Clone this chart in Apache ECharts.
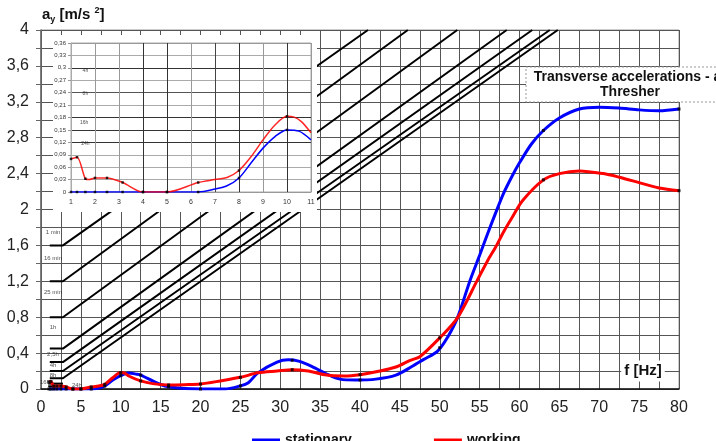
<!DOCTYPE html>
<html><head><meta charset="utf-8">
<script src="https://cdn.jsdelivr.net/npm/echarts@6/dist/echarts.min.js"></script>
<style>html,body{margin:0;padding:0;background:#fff}#c{width:716px;height:441px}</style>
</head><body><div id="c"></div>
<script>
const FONT = "'Liberation Sans', Arial, sans-serif";

// ---- main chart: curves [f Hz, a m/s2]
const stationaryLine = [[1,0],[2,0],[4,0],[6.3,0],[7,0.005],[8,0.034],[9,0.1],[10,0.15],[11,0.178],[12,0.165],[12.5,0.155],[14,0.09],[15,0.05],[16,0.025],[18,0.005],[20,0],[23,0],[25,0.035],[26,0.07],[27.2,0.18],[29.6,0.3],[31,0.325],[32.3,0.31],[34,0.25],[36,0.16],[37.5,0.11],[39.5,0.1],[42,0.11],[44.5,0.155],[46.5,0.25],[48,0.33],[49.7,0.42],[51,0.58],[52.2,0.79],[53.8,1.21],[55,1.49],[56,1.73],[57,1.96],[58,2.18],[59,2.36],[60,2.52],[61.5,2.73],[63,2.88],[65,3.02],[67.5,3.12],[70,3.14],[72.5,3.13],[75,3.11],[77.5,3.1],[80,3.12]];
const workingLine = [[1,0.08],[1.25,0.084],[1.6,0.032],[2,0.034],[2.5,0.034],[3.15,0.023],[4,0],[5,0],[6.3,0.023],[7,0.03],[8,0.052],[9,0.126],[10,0.183],[10.5,0.178],[11,0.145],[12.5,0.09],[14,0.06],[16,0.045],[18,0.048],[20,0.055],[22.5,0.09],[25,0.13],[27.2,0.18],[29.6,0.2],[31.5,0.215],[33.5,0.2],[35.8,0.155],[38,0.145],[40,0.16],[42.5,0.2],[44.5,0.245],[46.3,0.32],[47.5,0.36],[50,0.57],[52.2,0.79],[54.7,1.21],[56,1.43],[57,1.58],[58,1.75],[59,1.9],[60.4,2.1],[63,2.33],[65,2.4],[67.5,2.43],[70.5,2.4],[72.5,2.36],[75,2.3],[77.5,2.24],[80,2.21]];

// measured 1/3-octave band points (markers)
const bandFreq       = [1,1.25,1.6,2,2.5,3.15,4,5,6.3,8,10,12.5,16,20,25,31.5,40,50,63,80];
const stationaryBand = [0,0,0,0,0,0,0,0,0,0.034,0.15,0.155,0.025,0,0.035,0.32,0.1,0.46,2.88,3.12];
const workingBand    = [0.08,0.084,0.032,0.034,0.034,0.023,0,0,0.023,0.052,0.183,0.09,0.045,0.055,0.13,0.215,0.16,0.57,2.33,2.21];

// exposure limit lines: level at the bend, and frequency where they reach 4 m/s2
const limitStart   = [1.6, 1.2, 0.8, 0.45, 0.3, 0.2, 0.12];
const limitEndFreq = [41.0, 46.0, 52.2, 58.4, 61.6, 63.8, 64.8];
const limitStubFrom = 1.1, limitBend = 2.75;
const extraStubs = [0.06, 0.03];
const limitLabels = ['1 min','16 min','25 min','1h','2,5h','4h','8h','16h','24h'];
const limitLabelPos = [[1.5,1.75],[1.5,1.46],[1.5,1.08],[1.5,0.69],[1.5,0.39],[1.5,0.26],[1.5,0.15],[0.5,0.07],[4.5,0.045]];

// ---- inset (1-11 Hz)
const insetStationary = [[1,0],[2,0],[3,0],[4,0],[5,0],[6.3,0],[7,0.007],[7.5,0.015],[8,0.034],[8.5,0.07],[9,0.106],[9.5,0.134],[10,0.15],[10.5,0.147],[11,0.126]];
const insetWorking = [[1,0.08],[1.25,0.084],[1.6,0.032],[1.75,0.03],[2,0.034],[2.5,0.034],[3.15,0.023],[4,0],[5,0],[6.3,0.023],[7,0.03],[7.5,0.035],[8,0.052],[8.5,0.085],[9,0.126],[9.5,0.162],[10,0.183],[10.3,0.181],[10.6,0.17],[11,0.143]];
const insetLabels = ['4h','8h','16h','24h'];
const insetLabelPos = [[1.6,0.294],[1.6,0.237],[1.55,0.168],[1.6,0.117]];

const BLUE = '#0000ff', RED = '#ff0000';

function commaLabel(v, step){
  if (Math.abs(v/step - Math.round(v/step)) > 1e-6) return '';
  return String(Math.round(v*100)/100).replace('.', ',');
}

const series = [];
// limit lines
limitStart.forEach((y0, i) => {
  series.push({type:'line', xAxisIndex:0, yAxisIndex:0, z:1, silent:true, symbol:'none',
    lineStyle:{color:'#000', width:2}, animation:false,
    data:[[limitStubFrom, y0],[limitBend, y0],[limitEndFreq[i], 4]]});
});
extraStubs.forEach(y0 => {
  series.push({type:'line', z:1, silent:true, symbol:'none', lineStyle:{color:'#000', width:2}, animation:false,
    data:[[0.9, y0],[limitBend, y0]]});
});
series.push({type:'scatter', z:1, symbolSize:0, silent:true, animation:false,
  data: limitLabels.map((t,i)=>[limitLabelPos[i][0], limitLabelPos[i][1], t]),
  label:{show:true, position:'inside', formatter:p=>p.value[2], fontSize:6, color:'#222', fontFamily:FONT}});

// main curves
series.push({name:'stationary', type:'line', z:3, smooth:0.3, symbol:'none', animation:false,
  lineStyle:{color:BLUE, width:3}, itemStyle:{color:BLUE}, data:stationaryLine});
series.push({name:'working', type:'line', z:4, smooth:0.3, symbol:'none', animation:false,
  lineStyle:{color:RED, width:3}, itemStyle:{color:RED}, data:workingLine});
series.push({type:'scatter', z:5, symbol:'rect', symbolSize:3, itemStyle:{color:'#000'}, animation:false, silent:true,
  data: bandFreq.map((f,i)=>[f, stationaryBand[i]])});
series.push({type:'scatter', z:5, symbol:'rect', symbolSize:3, itemStyle:{color:'#000'}, animation:false, silent:true,
  data: bandFreq.map((f,i)=>[f, workingBand[i]])});

// inset curves
series.push({type:'line', xAxisIndex:1, yAxisIndex:1, z:7, smooth:0.3, symbol:'none', animation:false,
  lineStyle:{color:BLUE, width:1.5}, data:insetStationary});
series.push({type:'line', xAxisIndex:1, yAxisIndex:1, z:8, smooth:0.3, symbol:'none', animation:false,
  lineStyle:{color:RED, width:1.5, opacity:0.85}, data:insetWorking});
series.push({type:'scatter', xAxisIndex:1, yAxisIndex:1, z:9, symbol:'rect', symbolSize:2.5, itemStyle:{color:'#000'}, animation:false, silent:true,
  data: bandFreq.filter(f=>f<=11).map((f,i)=>[f, stationaryBand[i]]).concat(bandFreq.filter(f=>f<=11).map((f,i)=>[f, workingBand[i]]))});
series.push({type:'scatter', xAxisIndex:1, yAxisIndex:1, z:9, symbolSize:0, silent:true, animation:false,
  data: insetLabels.map((t,i)=>[insetLabelPos[i][0], insetLabelPos[i][1], t]),
  label:{show:true, position:'inside', formatter:p=>p.value[2], fontSize:5, color:'#222', fontFamily:FONT}});

const option = {
  animation:false,
  backgroundColor:'#fff',
  textStyle:{fontFamily:FONT},
  grid:[
    {left:41, top:30, right:37, bottom:52, show:true, borderColor:'#999', borderWidth:1},
    {left:71, top:43, width:240, height:149, show:true, borderColor:'#aaa', borderWidth:1, z:6}
  ],
  xAxis:[
    {gridIndex:0, type:'value', min:0, max:80, interval:2.5, z:0,
      axisLine:{show:true, onZero:false, lineStyle:{color:'#111', width:1.5}},
      axisTick:{show:false},
      axisLabel:{fontSize:16, color:'#222', margin:11, fontFamily:FONT, formatter:v=>commaLabel(v,5)},
      splitLine:{show:true, lineStyle:{color:'#555', width:1}}},
    {gridIndex:1, type:'value', min:1, max:11, interval:1, z:6,
      axisLine:{show:true, onZero:false, lineStyle:{color:'#999', width:1}},
      axisTick:{show:false},
      axisLabel:{fontSize:7, color:'#333', margin:7, fontFamily:FONT},
      splitLine:{show:true, lineStyle:{color:['#999','#999','#999','#333','#333','#999','#444','#333','#999','#333','#999'], width:1}}}
  ],
  yAxis:[
    {gridIndex:0, type:'value', min:0, max:4, interval:0.2, z:0,
      axisLine:{show:true, onZero:false, lineStyle:{color:'#666', width:1.5}},
      axisTick:{show:true, length:5, lineStyle:{color:'#666'}},
      axisLabel:{fontSize:16, color:'#222', margin:12, fontFamily:FONT, formatter:v=>commaLabel(v,0.4)},
      splitLine:{show:true, lineStyle:{color:'#555', width:1}}},
    {gridIndex:1, type:'value', min:0, max:0.36, interval:0.03, z:6,
      axisLine:{show:true, onZero:false, lineStyle:{color:'#aaa', width:1}},
      axisTick:{show:true, length:3, lineStyle:{color:'#999'}},
      axisLabel:{fontSize:6, color:'#333', margin:5, fontFamily:FONT, formatter:v=>commaLabel(v,0.03)},
      splitLine:{show:true, lineStyle:{color:['#999','#aaa','#aaa','#aaa','#333','#333','#333','#aaa','#555','#aaa','#333','#aaa','#999'], width:1}}}
  ],
  legend:{data:['stationary','working'], left:247, top:428, icon:'rect', itemWidth:28, itemHeight:3, itemGap:82,
    textStyle:{fontSize:14, fontWeight:'bold', color:'#111', fontFamily:FONT}},
  graphic:[
    {type:'rect', z:5, silent:true, shape:{x:53, y:35, width:264, height:177}, style:{fill:'#fff'}},
    {type:'text', z:10, x:42, y:6, style:{text:'a{s|y} [m/s {p|2}]', fontSize:15, fontWeight:'bold', fontFamily:FONT, fill:'#111', lineHeight:18,
      rich:{s:{fontSize:9, fontWeight:'bold', fontFamily:FONT, verticalAlign:'bottom', lineHeight:18},
            p:{fontSize:9, fontWeight:'bold', fontFamily:FONT, verticalAlign:'top', lineHeight:18}}}},
    {type:'rect', z:10, silent:true, shape:{x:526, y:67, width:215, height:35}, style:{fill:'#fff', stroke:'#999', lineWidth:1, lineDash:[2,2]}},
    {type:'text', z:11, x:630, y:85, style:{text:'Transverse accelerations - a{s|y}\nThresher', align:'center', verticalAlign:'middle',
      fontSize:14, fontWeight:'bold', fontFamily:FONT, fill:'#111', lineHeight:15,
      rich:{s:{fontSize:9, fontWeight:'bold', fontFamily:FONT, verticalAlign:'bottom', lineHeight:15}}}},
    {type:'text', z:10, x:643, y:371, style:{text:'f [Hz]', align:'center', verticalAlign:'middle', fontSize:15, fontWeight:'bold',
      fontFamily:FONT, fill:'#111', backgroundColor:'#fff', padding:[3,3]}}
  ],
  series
};
const chart = echarts.init(document.getElementById('c'), null, {renderer:'canvas'});
chart.setOption(option);
</script></body></html>
